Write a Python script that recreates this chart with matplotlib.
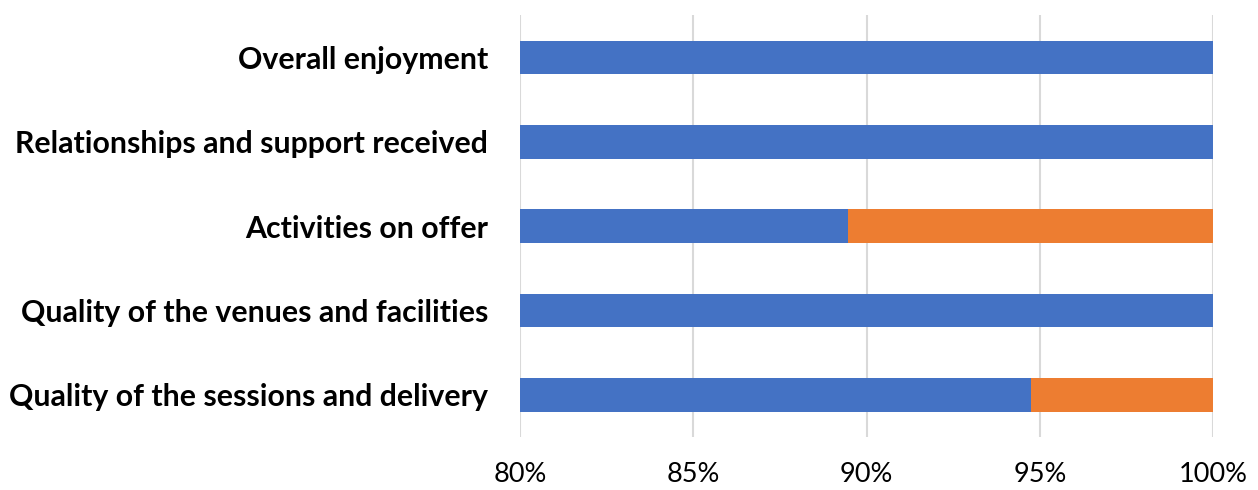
import matplotlib
matplotlib.use("Agg")
import matplotlib.pyplot as plt
from matplotlib.ticker import FuncFormatter

categories = ["Overall enjoyment", "Relationships and support received",
              "Activities on offer", "Quality of the venues and facilities",
              "Quality of the sessions and delivery"]
positive = [100.0, 100.0, 89.47, 100.0, 94.74]
other = [0.0, 0.0, 10.53, 0.0, 5.26]
xticks = [80, 85, 90, 95, 100]

plt.rcParams['font.family'] = ['Lato', 'DejaVu Sans']
fig = plt.figure(figsize=(12.58, 4.9), dpi=100)
ax = fig.add_axes([0.4134, 0.108, 0.551, 0.861])

ypos = list(range(len(categories)))[::-1]
ax.barh(ypos, positive, height=0.4, color="#4472C4", zorder=3)
ax.barh(ypos, other, left=positive, height=0.4, color="#ED7D31", zorder=3)

ax.set_xlim(80, 100)
ax.set_ylim(-0.5, 4.5)
ax.set_xticks(xticks)
ax.xaxis.set_major_formatter(FuncFormatter(lambda v, p: f"{v:.0f}%"))
ax.set_yticks(ypos)
ax.set_yticklabels(categories, fontsize=21.8, fontweight="bold")
ax.tick_params(axis="x", labelsize=19.5, length=0, pad=18)
ax.tick_params(axis="y", length=0, pad=23)
ax.grid(axis="x", color="#d9d9d9", linewidth=1.5, zorder=0)
for s in ax.spines.values():
    s.set_visible(False)

fig.savefig("out.png", dpi=100)
